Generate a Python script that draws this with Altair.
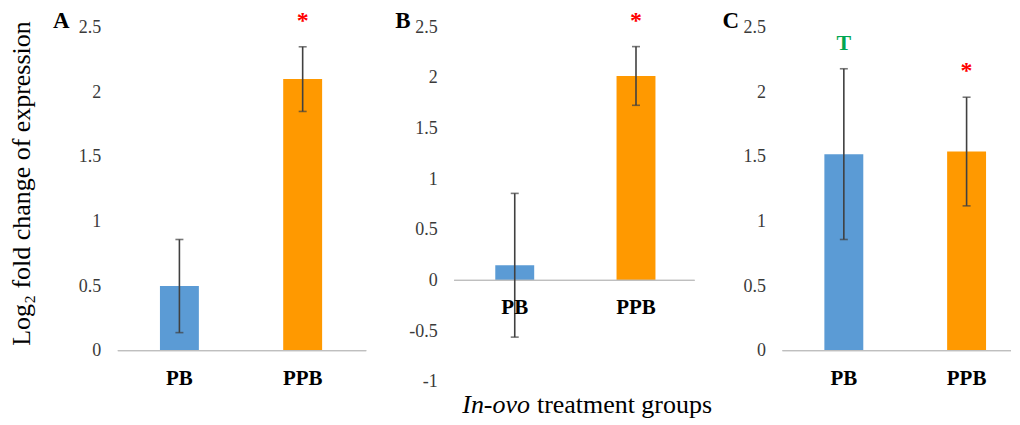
import altair as alt
import pandas as pd

# ---- data ----
groups = ["PB", "PPB"]
means_A = [0.50, 2.10]
errs_A = [0.36, 0.25]
means_B = [0.15, 2.02]
errs_B = [0.71, 0.29]
means_C = [1.52, 1.54]
errs_C = [0.66, 0.42]
sig_A = ["", "*"]
sig_B = ["", "*"]
sig_C = ["T", "*"]
ticks_AC = [0, 0.5, 1, 1.5, 2, 2.5]
ticks_B = [-1, -0.5, 0, 0.5, 1, 1.5, 2, 2.5]
panel_labels = ["A", "B", "C"]
y_title = "Log₂ fold change of expression"
x_title_italic = "In-ovo"
x_title_rest = "treatment groups"

SERIF = "Liberation Serif"
BAR_COLORS = ["#5B9BD5", "#FF9900"]
SIG_COLORS = {"*": "#FF0000", "T": "#00A651"}
SIG_SIZES = {"*": 24, "T": 22}
H = 355
TICK_COLOR = "#3A3A3A"


def panel(label, label_x, means, errs, sig, ymin, yticks, width, xrange,
          first=False, xtitle=False):
    df = pd.DataFrame({
        "group": groups,
        "mean": means,
        "lo": [m - e for m, e in zip(means, errs)],
        "hi": [m + e for m, e in zip(means, errs)],
        "sig": sig,
        "sigcolor": [SIG_COLORS.get(s, "#000000") for s in sig],
        "sigsize": [SIG_SIZES.get(s, 20) for s in sig],
        "bcolor": BAR_COLORS,
        "zero": [0, 0],
    })
    xs = alt.Scale(domain=groups, range=[0, xrange], paddingInner=0, paddingOuter=0)
    ys = alt.Scale(domain=[ymin, 2.5], nice=False, zero=False)
    axis_kw = dict(
        values=yticks, labelExpr="replace(datum.label, '\u2212', '-')",
        format="~g",
        labelFont=SERIF, labelFontSize=18, labelColor=TICK_COLOR,
        domain=False, ticks=False, grid=False, labelPadding=17,
    )
    if first:
        axis_kw.update(title=y_title, titleX=-83, titleY=156, titleAngle=270,
                       titleFont=SERIF, titleFontSize=26, titleFontWeight="normal",
                       titleColor="#000000")
    else:
        axis_kw.update(title=None)
    AX = alt.Axis(**axis_kw)
    base = alt.Chart(df)
    X = alt.X("group:N", scale=xs, axis=None)

    def Yn(field):
        return alt.Y(field, scale=ys, axis=AX)

    bars = base.mark_bar(width=39).encode(
        x=X,
        y=Yn("mean:Q"),
        y2="zero:Q",
        color=alt.Color("bcolor:N", scale=None),
    )
    baseline = base.mark_rule(color="#BFBFBF", strokeWidth=1.3).encode(
        x=alt.value(0), x2=alt.value(width), y=Yn("zero:Q")
    )
    err = base.mark_rule(color="#404040", strokeWidth=1.6).encode(
        x=X, y=Yn("lo:Q"), y2="hi:Q"
    )
    cap_lo = base.mark_tick(color="#404040", thickness=1.6, size=8).encode(
        x=X, y=Yn("lo:Q")
    )
    cap_hi = base.mark_tick(color="#404040", thickness=1.6, size=8).encode(
        x=X, y=Yn("hi:Q")
    )
    sig_text = base.mark_text(font=SERIF, fontWeight="bold", baseline="middle", dy=-26).encode(
        x=X, y=Yn("hi:Q"), text="sig:N",
        color=alt.Color("sigcolor:N", scale=None),
        size=alt.Size("sigsize:Q", scale=None),
    )
    cat_text = base.mark_text(font=SERIF, fontWeight="bold", fontSize=21,
                              baseline="middle", dy=28, color="#000000").encode(
        x=X, y=Yn("zero:Q"), text="group:N"
    )
    lab = alt.Chart(pd.DataFrame({"t": [label]})).mark_text(
        font=SERIF, fontWeight="bold", fontSize=23, align="left", baseline="middle",
        color="#000000"
    ).encode(text="t:N", x=alt.value(label_x), y=alt.value(-6))

    layers = [bars, baseline, err, cap_lo, cap_hi, sig_text, cat_text, lab]
    if xtitle:
        t1 = alt.Chart(pd.DataFrame({"t": [x_title_italic]})).mark_text(
            font=SERIF, fontSize=26, fontStyle="italic", align="right",
            baseline="alphabetic", color="#000000"
        ).encode(text="t:N", x=alt.value(76), y=alt.value(386))
        t2 = alt.Chart(pd.DataFrame({"t": [x_title_rest]})).mark_text(
            font=SERIF, fontSize=26, align="left", baseline="alphabetic",
            color="#000000"
        ).encode(text="t:N", x=alt.value(83), y=alt.value(386))
        layers += [t1, t2]
    return alt.layer(*layers).properties(width=width, height=H)


pA = panel(panel_labels[0], -65, means_A, errs_A, sig_A, -0.2392, ticks_AC, 249, 247, first=True)
pB = panel(panel_labels[1], -59, means_B, errs_B, sig_B, -1.0, ticks_B, 241, 243, xtitle=True)
pC = panel(panel_labels[2], -60, means_C, errs_C, sig_C, -0.2392, ticks_AC, 229, 246)

chart = alt.hconcat(pA, pB, pC, spacing=88, bounds="flush").properties(
    padding={"left": 0, "top": 0, "right": 0, "bottom": 0},
    background="#FFFFFF",
).configure_view(stroke=None).configure_axisY(
    labelFont=SERIF, labelFontSize=18, labelColor=TICK_COLOR,
)

chart.save("out.html", embed_options={"renderer": "svg", "actions": False})
